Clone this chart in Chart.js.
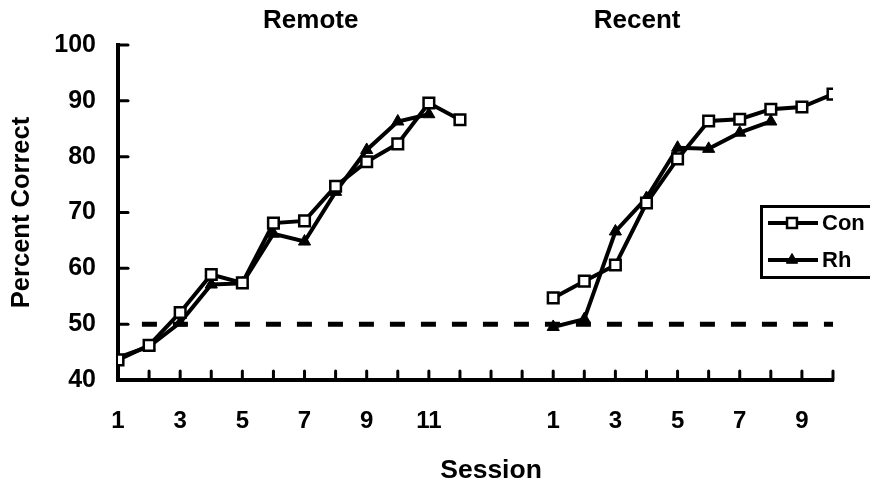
<!DOCTYPE html>
<html>
<head>
<meta charset="utf-8">
<script src="https://cdn.jsdelivr.net/npm/chart.js@4.4.0/dist/chart.umd.min.js"></script>
<style>
  html, body { margin: 0; padding: 0; background: #fff; }
  #c { display: block; }
</style>
</head>
<body>
<canvas id="c" width="870" height="484"></canvas>
<script>
// ---- data ----
const remoteSessions = [1, 2, 3, 4, 5, 6, 7, 8, 9, 10, 11, 12];
const recentSessions = [1, 2, 3, 4, 5, 6, 7, 8, 9, 10];

const conRemote = [43.6, 46.2, 52.1, 58.9, 57.4, 68.1, 68.5, 74.7, 79.1, 82.3, 89.6, 86.6];
const rhRemote  = [44.0, 46.0, 50.3, 57.1, 57.3, 66.2, 64.8, 73.7, 81.2, 86.3, 87.6];
const conRecent = [54.7, 57.7, 60.6, 71.7, 79.6, 86.4, 86.7, 88.5, 88.9, 91.2];
const rhRecent  = [49.5, 50.9, 66.6, 72.6, 81.6, 81.4, 84.3, 86.3];

const yTickValues = [40, 50, 60, 70, 80, 90, 100];
const chanceLevel = 50;
const panelTitles = ['Remote', 'Recent'];
const seriesNames = ['Con', 'Rh'];

// ---- layout ----
const FONT = "'Liberation Sans', Arial, Helvetica, sans-serif";
const RECENT_START = remoteSessions.length + 2;            // two empty slots between the panels
const X_MAX = RECENT_START + recentSessions.length - 1;
const slots = Array.from({ length: X_MAX + 1 }, (_, i) => i);

function toPoints(values, start) {
  return values.map((v, i) => ({ x: start + i, y: v }));
}
function sessionAtSlot(slot) {
  if (slot < remoteSessions.length) return remoteSessions[slot];
  if (slot >= RECENT_START) return recentSessions[slot - RECENT_START];
  return null;
}

const conStyle = {
  borderColor: '#000', borderWidth: 4, pointStyle: 'rect', pointRadius: 7.5,
  pointBackgroundColor: '#fff', pointBorderColor: '#000', pointBorderWidth: 2.5,
  tension: 0, fill: false, order: 1
};
const rhStyle = {
  borderColor: '#000', borderWidth: 4, pointStyle: 'triangle', pointRadius: 7,
  pointBackgroundColor: '#000', pointBorderColor: '#000', pointBorderWidth: 1,
  tension: 0, fill: false, order: 2
};

const datasets = [
  Object.assign({ label: seriesNames[0], data: toPoints(conRemote, 0) }, conStyle),
  Object.assign({ label: seriesNames[0], data: toPoints(conRecent, RECENT_START) }, conStyle),
  Object.assign({ label: seriesNames[1], data: toPoints(rhRemote, 0) }, rhStyle),
  Object.assign({ label: seriesNames[1], data: toPoints(rhRecent, RECENT_START) }, rhStyle),
  {
    label: 'chance', data: [{ x: 0.77, y: chanceLevel }, { x: X_MAX, y: chanceLevel }],
    borderColor: '#000', borderWidth: 5, borderDash: [15, 16], pointRadius: 0, order: 10
  }
];

// inward tick marks, panel titles, axis title and the key
const decor = {
  id: 'decor',
  beforeDatasetsDraw(chart) {
    const { ctx, chartArea, scales: { x, y } } = chart;
    ctx.save();
    ctx.strokeStyle = '#000';
    ctx.lineWidth = 3;
    ctx.lineCap = 'round';
    slots.forEach(s => {
      if (s === 0) return;
      const px = x.getPixelForValue(s);
      ctx.beginPath();
      ctx.moveTo(px, chartArea.bottom);
      ctx.lineTo(px, chartArea.bottom - 9);
      ctx.stroke();
    });
    yTickValues.forEach(v => {
      if (v === yTickValues[0]) return;
      const py = y.getPixelForValue(v);
      ctx.beginPath();
      ctx.moveTo(chartArea.left, py);
      ctx.lineTo(chartArea.left + 10, py);
      ctx.stroke();
    });
    ctx.restore();
  },
  afterDraw(chart) {
    const { ctx, scales: { x } } = chart;
    ctx.save();
    ctx.fillStyle = '#000';
    ctx.textAlign = 'center';
    ctx.textBaseline = 'middle';
    ctx.font = 'bold 26px ' + FONT;
    ctx.fillText(panelTitles[0], x.getPixelForValue(6.2), 21);
    ctx.fillText(panelTitles[1], x.getPixelForValue(16.7), 21);
    ctx.font = 'bold 26.5px ' + FONT;
    ctx.fillText('Session', x.getPixelForValue(12), 471);

    // key
    ctx.lineWidth = 3;
    ctx.strokeStyle = '#000';
    ctx.strokeRect(761.5, 206.5, 140, 71);
    const rows = [
      { name: seriesNames[0], y: 223, style: conStyle },
      { name: seriesNames[1], y: 260, style: rhStyle }
    ];
    rows.forEach(r => {
      ctx.lineWidth = 4;
      ctx.beginPath();
      ctx.moveTo(768, r.y);
      ctx.lineTo(818, r.y);
      ctx.stroke();
      ctx.fillStyle = r.style.pointBackgroundColor;
      ctx.strokeStyle = r.style.pointBorderColor;
      ctx.lineWidth = r.style.pointBorderWidth;
      Chart.helpers.drawPoint(ctx, {
        pointStyle: r.style.pointStyle, radius: r.style.pointRadius - 0.5, rotation: 0,
        borderWidth: r.style.pointBorderWidth
      }, 792, r.y);
      ctx.fillStyle = '#000';
      ctx.strokeStyle = '#000';
      ctx.textAlign = 'left';
      ctx.font = 'bold 22px ' + FONT;
      ctx.fillText(r.name, 822, r.y + 1);
    });
    ctx.restore();
  }
};

new Chart(document.getElementById('c'), {
  type: 'line',
  data: { datasets },
  options: {
    responsive: false,
    animation: false,
    devicePixelRatio: 1,
    layout: { padding: { top: 45, right: 37, left: 0, bottom: 0 } },
    plugins: { legend: { display: false }, tooltip: { enabled: false } },
    scales: {
      x: {
        type: 'linear', min: 0, max: X_MAX,
        afterBuildTicks: s => { s.ticks = slots.map(v => ({ value: v })); },
        afterFit: s => { s.height = 104; },
        grid: { display: false, drawTicks: false },
        border: { display: true, color: '#000', width: 4 },
        ticks: {
          autoSkip: false, maxRotation: 0, minRotation: 0, padding: 27, color: '#000',
          font: { family: FONT, size: 24, weight: 'bold' },
          callback: v => {
            const s = sessionAtSlot(v);
            return s !== null && s % 2 === 1 ? String(s) : '';
          }
        }
      },
      y: {
        min: 40, max: 100,
        afterBuildTicks: s => { s.ticks = yTickValues.map(v => ({ value: v })); },
        afterFit: s => { s.width = 118; },
        grid: { display: false, drawTicks: false },
        border: { display: true, color: '#000', width: 4 },
        ticks: { padding: 22, color: '#000', font: { family: FONT, size: 25, weight: 'bold' } },
        title: {
          display: true, text: 'Percent Correct', color: '#000',
          font: { family: FONT, size: 25.5, weight: 'bold' }, padding: { top: 7, bottom: 0 }
        }
      }
    }
  },
  plugins: [decor]
});
</script>
</body>
</html>
